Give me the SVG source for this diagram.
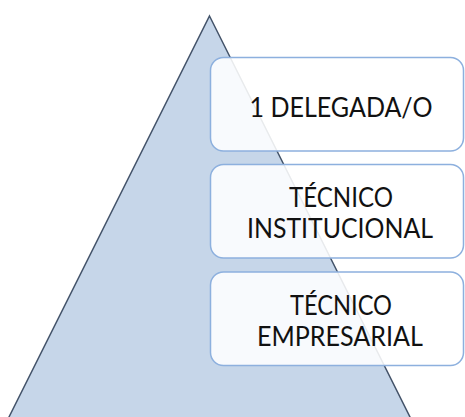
<svg xmlns="http://www.w3.org/2000/svg" width="465" height="417" viewBox="0 0 465 417">
<style>
.tri{fill:#C6D6E9;stroke:#44546A;stroke-width:1.5}
.box{fill:#FFFFFF;fill-opacity:0.88;stroke:#8DB0DE;stroke-width:1.5}
.lbl{font-family:Lato,"Open Sans","Liberation Sans",sans-serif;font-size:26px;fill:#111111;text-anchor:middle}
</style>
<rect width="465" height="417" fill="#FFFFFF"/>
<g id="pyramid">
<polygon class="tri" points="209.5,16 411.5,420 7.5,420"/>
</g>
<g id="connectors"></g>
<g id="node1">
<rect class="box" x="210.5" y="57.5" width="253" height="93.5" rx="13"/>
<text class="lbl" x="341" y="117" textLength="183" lengthAdjust="spacingAndGlyphs">1 DELEGADA/O</text>
</g>
<g id="node2">
<rect class="box" x="210.5" y="164.5" width="253" height="93.5" rx="13"/>
<text class="lbl" x="341" y="207" textLength="104" lengthAdjust="spacingAndGlyphs">TÉCNICO</text>
<text class="lbl" x="340" y="238" textLength="186" lengthAdjust="spacingAndGlyphs">INSTITUCIONAL</text>
</g>
<g id="node3">
<rect class="box" x="210.5" y="272" width="253" height="93.5" rx="13"/>
<text class="lbl" x="341" y="314.5" textLength="102" lengthAdjust="spacingAndGlyphs">TÉCNICO</text>
<text class="lbl" x="340" y="346" textLength="166" lengthAdjust="spacingAndGlyphs">EMPRESARIAL</text>
</g>
</svg>
